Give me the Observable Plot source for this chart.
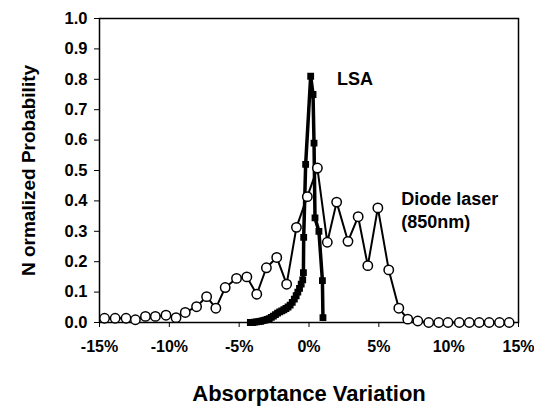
<!DOCTYPE html>
<html>
<head>
<meta charset="utf-8">
<script src="https://cdn.jsdelivr.net/npm/d3@7"></script>
<script src="https://cdn.jsdelivr.net/npm/@observablehq/plot@0.6"></script>
<style>
body { margin: 0; background: #fff; }
#chart svg { font-family: "Liberation Sans", Arial, sans-serif; }
</style>
</head>
<body>
<div id="chart"></div>
<script>
// Diode laser (850nm): absorptance variation (%) and normalized probability
const diodeX = [-14.64, -13.88, -13.1, -12.43, -11.71, -11.0, -10.24, -9.52, -8.86, -8.05,
  -7.33, -6.67, -6.0, -5.19, -4.45, -3.74, -3.05, -2.31, -1.6, -0.9,
  -0.12, 0.6, 1.31, 1.98, 2.79, 3.52, 4.21, 4.93, 5.71, 6.43,
  7.07, 7.79, 8.57, 9.29, 9.95, 10.76, 11.48, 12.19, 12.9, 13.64, 14.33];
const diodeY = [0.014, 0.014, 0.014, 0.009, 0.02, 0.02, 0.024, 0.016, 0.033, 0.052,
  0.085, 0.047, 0.115, 0.145, 0.15, 0.093, 0.18, 0.214, 0.126, 0.313,
  0.414, 0.508, 0.264, 0.396, 0.267, 0.348, 0.187, 0.377, 0.173, 0.047,
  0.011, 0.005, 0.0, 0.0, 0.0, 0.0, 0.0, 0.0, 0.0, 0.0, 0.0];

// LSA
const lsaX = [-4.2, -4.05, -3.9, -3.75, -3.6, -3.45, -3.3, -3.15, -3.0, -2.85,
  -2.7, -2.55, -2.4, -2.25, -2.1, -1.95, -1.8, -1.65, -1.5, -1.35,
  -1.2, -1.05, -0.92, -0.8, -0.68, -0.56, -0.45, -0.4, -0.38, -0.24,
  0.12, 0.29, 0.36, 0.43, 0.71, 0.96, 1.0];
const lsaY = [0.0, 0.0, 0.001, 0.002, 0.003, 0.004, 0.006, 0.008, 0.01, 0.013,
  0.017, 0.021, 0.026, 0.031, 0.035, 0.038, 0.042, 0.046, 0.051, 0.057,
  0.066, 0.077, 0.088, 0.1, 0.112, 0.126, 0.14, 0.164, 0.28, 0.52,
  0.81, 0.75, 0.59, 0.344, 0.3, 0.138, 0.016];

const xTicks = [-15, -10, -5, 0, 5, 10, 15];
const yTicks = [0, 0.1, 0.2, 0.3, 0.4, 0.5, 0.6, 0.7, 0.8, 0.9, 1.0];
const xTitle = ["Absorptance Variation"];
const yTitle = "N ormalized Probability";
const seriesLabels = [
  {x: 2.0, y: 0.8, text: "LSA"},
  {x: 6.6, y: 0.404, text: "Diode laser"},
  {x: 6.6, y: 0.329, text: "(850nm)"}
];

const diode = diodeX.map((x, i) => ({x, y: diodeY[i]}));
const lsa = lsaX.map((x, i) => ({x, y: lsaY[i]}));

const chart = Plot.plot({
  width: 534,
  height: 410,
  marginLeft: 99,
  marginRight: 16,
  marginTop: 18,
  marginBottom: 88,
  x: {domain: [-15, 15]},
  y: {domain: [0, 1]},
  marks: [
    Plot.frame({stroke: "black", strokeWidth: 1.5}),
    Plot.axisX({ticks: xTicks, tickFormat: d => d + "%", tickSize: 5, tickPadding: 13,
      fontSize: 16, fontWeight: "bold", label: null, color: "black"}),
    Plot.axisY({ticks: yTicks, tickFormat: d3.format(".1f"), tickSize: 5, tickPadding: 7,
      fontSize: 16.5, fontWeight: "bold", label: null, color: "black"}),
    Plot.axisY({ticks: [], label: yTitle, labelAnchor: "center",
      labelOffset: 78, labelArrow: "none", fontSize: 19, fontWeight: "bold", color: "black"}),
    Plot.text(xTitle, {frameAnchor: "bottom", dy: 78, fontSize: 22, fontWeight: "bold", fill: "black"}),
    Plot.line(lsa, {x: "x", y: "y", stroke: "black", strokeWidth: 3.5}),
    Plot.dot(lsa, {x: "x", y: "y", symbol: "square", r: 3, fill: "black", stroke: "black"}),
    Plot.line(diode, {x: "x", y: "y", stroke: "black", strokeWidth: 2}),
    Plot.dot(diode, {x: "x", y: "y", r: 4.7, fill: "white", stroke: "black", strokeWidth: 1.5}),
    Plot.text(seriesLabels, {x: "x", y: "y", text: "text", textAnchor: "start",
      fontSize: 18, fontWeight: "bold", fill: "black"})
  ]
});
document.getElementById("chart").appendChild(chart);
</script>
</body>
</html>
